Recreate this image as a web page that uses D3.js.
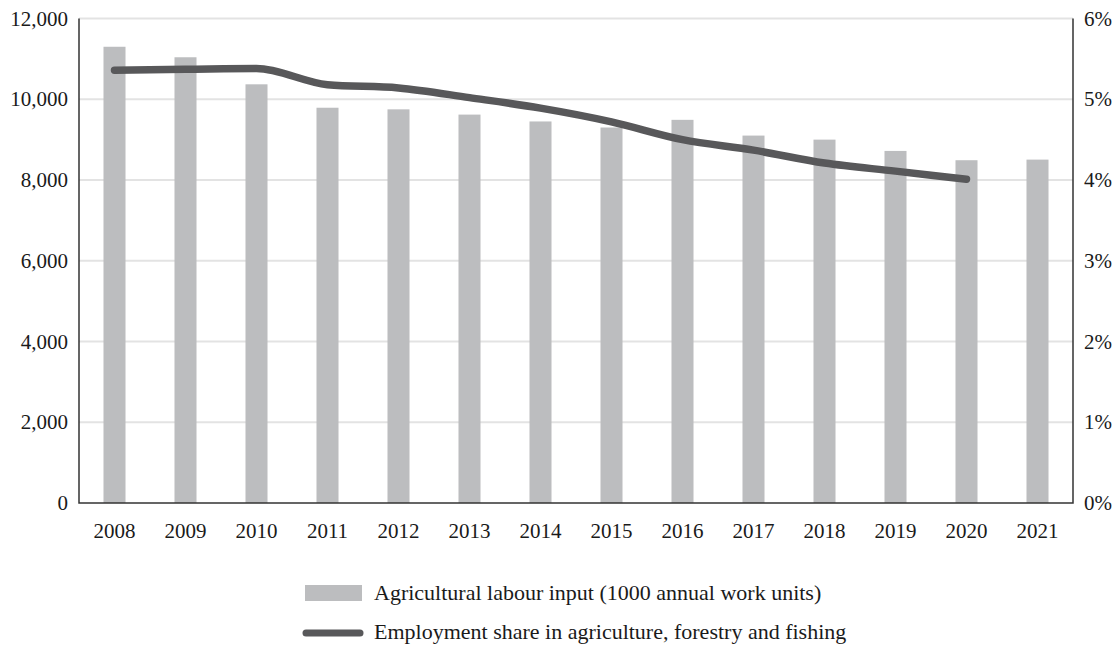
<!DOCTYPE html>
<html>
<head>
<meta charset="utf-8">
<script src="https://cdn.jsdelivr.net/npm/d3@7"></script>
<style>
  body { margin: 0; background: #fff; }
  svg text { font-family: "Liberation Serif", "Times New Roman", serif; fill: #1a1a1a; }
</style>
</head>
<body>
<div id="chart"></div>
<script>
'use strict';

var years = ['2008', '2009', '2010', '2011', '2012', '2013', '2014', '2015', '2016', '2017', '2018', '2019', '2020', '2021'];
var labourInput = [11300, 11040, 10370, 9790, 9750, 9620, 9450, 9300, 9490, 9100, 9000, 8720, 8490, 8505];
var employmentShare = [5.36, 5.37, 5.38, 5.18, 5.14, 5.02, 4.89, 4.72, 4.50, 4.37, 4.21, 4.11, 4.01, null];
var leftTicks = [0, 2000, 4000, 6000, 8000, 10000, 12000];
var rightTicks = [0, 1, 2, 3, 4, 5, 6];
var BAR_LABEL = 'Agricultural labour input (1000 annual work units)';
var LINE_LABEL = 'Employment share in agriculture, forestry and fishing';

var W = 1116, H = 646;
var margin = { top: 18.5, right: 43, bottom: 143, left: 79 };
var width = W - margin.left - margin.right;
var height = H - margin.top - margin.bottom;

var svg = d3.select('#chart').append('svg')
    .attr('width', W)
    .attr('height', H);

var g = svg.append('g')
    .attr('transform', 'translate(' + margin.left + ',' + margin.top + ')');

var x = d3.scaleBand()
    .domain(years)
    .range([0, width])
    .paddingInner(0.69)
    .paddingOuter(0.345);

var y = d3.scaleLinear().domain([0, 12000]).range([height, 0]);
var y2 = d3.scaleLinear().domain([0, 6]).range([height, 0]);

// gridlines
g.append('g')
    .selectAll('line')
    .data(leftTicks.slice(1))
    .enter().append('line')
      .attr('x1', 0)
      .attr('x2', width)
      .attr('y1', function(d) { return y(d); })
      .attr('y2', function(d) { return y(d); })
      .attr('stroke', '#e3e3e3')
      .attr('stroke-width', 2);

// bars
g.append('g')
    .selectAll('rect')
    .data(labourInput)
    .enter().append('rect')
      .attr('x', function(d, i) { return x(years[i]); })
      .attr('y', function(d) { return y(d); })
      .attr('width', x.bandwidth())
      .attr('height', function(d) { return height - y(d); })
      .attr('fill', '#bcbdbf');

// line
var line = d3.line()
    .defined(function(d) { return d != null; })
    .curve(d3.curveMonotoneX)
    .x(function(d, i) { return x(years[i]) + x.bandwidth() / 2; })
    .y(function(d) { return y2(d); });

g.append('path')
    .datum(employmentShare)
    .attr('d', line)
    .attr('fill', 'none')
    .attr('stroke', '#58585a')
    .attr('stroke-width', 7.5)
    .attr('stroke-linecap', 'round')
    .attr('stroke-linejoin', 'round');

// axes
var yAxis = d3.axisLeft(y)
    .tickValues(leftTicks)
    .tickSize(0)
    .tickPadding(11)
    .tickFormat(d3.format(','));

var y2Axis = d3.axisRight(y2)
    .tickValues(rightTicks)
    .tickSize(0)
    .tickPadding(11)
    .tickFormat(function(d) { return d + '%'; });

var xAxis = d3.axisBottom(x)
    .tickSize(0)
    .tickPadding(20);

function styleAxis(sel) {
  sel.select('.domain').remove();
  sel.selectAll('text').style('font-size', '21px').attr('fill', '#1a1a1a');
}

g.append('g').attr('class', 'axis axis--y').call(yAxis).call(styleAxis);
g.append('g').attr('class', 'axis axis--y2')
    .attr('transform', 'translate(' + width + ',0)')
    .call(y2Axis).call(styleAxis);
g.append('g').attr('class', 'axis axis--x')
    .attr('transform', 'translate(0,' + height + ')')
    .call(xAxis).call(styleAxis);

// axis frame lines
g.append('path')
    .attr('d', 'M0,0V' + height + 'H' + width + 'V0')
    .attr('fill', 'none')
    .attr('stroke', '#333')
    .attr('stroke-width', 1.5);

// legend
var legend = svg.append('g').attr('class', 'legend');

legend.append('rect')
    .attr('x', 305)
    .attr('y', 585)
    .attr('width', 57)
    .attr('height', 16)
    .attr('fill', '#bcbdbf');

legend.append('text')
    .attr('x', 374)
    .attr('y', 600)
    .style('font-size', '22px')
    .text(BAR_LABEL);

legend.append('line')
    .attr('x1', 306)
    .attr('x2', 360)
    .attr('y1', 633)
    .attr('y2', 633)
    .attr('stroke', '#58585a')
    .attr('stroke-width', 7)
    .attr('stroke-linecap', 'round');

legend.append('text')
    .attr('x', 374)
    .attr('y', 639)
    .style('font-size', '22px')
    .text(LINE_LABEL);
</script>
</body>
</html>
